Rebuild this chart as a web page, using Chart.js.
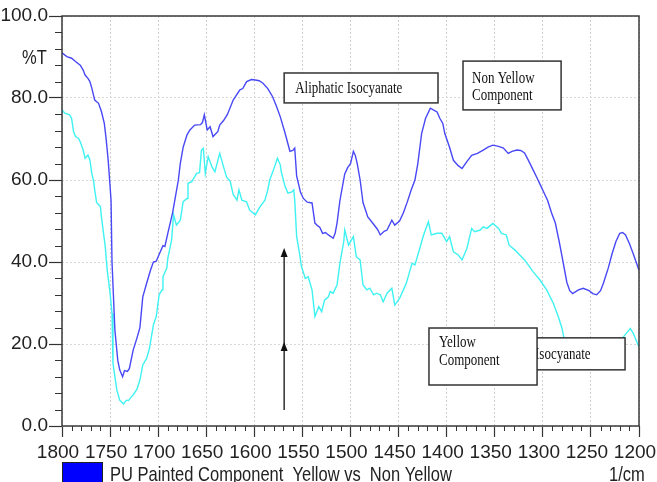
<!DOCTYPE html>
<html>
<head>
<meta charset="utf-8">
<script src="https://cdn.jsdelivr.net/npm/chart.js@4.4.1/dist/chart.umd.min.js"></script>
<style>
  body { margin: 0; background: #fff; }
  canvas { display: block; }
</style>
</head>
<body>
<canvas id="irChart" width="657" height="482"></canvas>
<script>
// axis ticks
const xTicks = [1800, 1750, 1700, 1650, 1600, 1550, 1500, 1450, 1400, 1350, 1300, 1250, 1200];
const yTicks = [0, 20, 40, 60, 80, 100];

// Non Yellow component (blue) - wavenumber / %T
const nonYellowWn = [1800,1795,1790,1786,1781,1778,1776,1773,1771,1769,1766,1762,1759,1756,1754,1752,1750,1749,1748,1745,1742,1740,1737,1735,1732,1730,1726,1722,1719,1716,1711,1708,1705,1702,1698,1695,1693,1690,1685,1682,1679,1677,1674,1670,1667,1662,1656,1654,1652,1649,1646,1643,1638,1636,1632,1628,1622,1615,1612,1608,1603,1599,1595,1591,1586,1581,1577,1573,1568,1563,1560,1558,1556,1552,1549,1545,1540,1537,1534,1532,1529,1526,1523,1518,1516,1514,1511,1506,1503,1500,1497,1495,1493,1490,1487,1482,1477,1472,1469,1465,1462,1457,1454,1449,1445,1441,1437,1433,1430,1426,1422,1417,1413,1410,1407,1404,1402,1397,1393,1388,1384,1379,1374,1368,1362,1357,1352,1346,1341,1336,1332,1327,1323,1319,1315,1310,1306,1303,1299,1295,1291,1287,1283,1280,1275,1272,1269,1263,1258,1252,1248,1244,1240,1237,1232,1228,1224,1220,1217,1214,1210,1206,1203,1200];
const nonYellowT  = [91,90.1,89.7,88.9,88,86.8,85.6,84.8,84,82.4,79.5,78.7,76.7,73.8,69.8,64.9,58.4,55,40,23.4,16,13.7,12,13.5,13.3,14,18.5,21.5,24,31.5,35.6,38,40,40.2,42.4,44,43.8,47,52,56,60,64,68,71,72.2,73.4,73.5,74,75.9,72.2,73,70.6,71.8,73.4,74.5,76,79.5,82,82.3,84,84.5,84.4,84.2,83.6,82.3,80.3,78,75.4,71.4,67,67.2,67.8,61,57,55.5,54.6,54.4,49.5,48.8,48.5,47,47.2,46.6,45.8,47,49.5,55,61.5,63,64,67,66,64,60,54.5,51,49.5,48,46.6,47.5,47.8,50.2,49,50,52,54.6,57.5,60,64,71.4,75,77.5,77,76.6,75,73.8,71.4,68,64.8,63.5,62.8,64.5,66,66.5,67.3,68,68.5,68.2,67.8,66.5,67,67.3,67.2,66.6,64.8,62.4,60.5,59,57,55,52,49.5,45,41.3,35,33,32.3,33.2,33.6,33,32.3,32,33,34.8,38.5,42,45,47,47.2,46.6,44.5,42,40,38];

// Yellow component (cyan) - wavenumber / %T
const yellowWn = [1800,1797,1792,1790,1788,1786,1783,1781,1778,1776,1773,1771,1769,1767,1766,1764,1760,1759,1755,1753,1750,1748,1747,1743,1740,1736,1733,1731,1726,1722,1719,1716,1712,1709,1705,1702,1699,1696,1695,1691,1690,1686,1684,1681,1677,1674,1670,1669,1665,1662,1660,1657,1655,1653,1651,1648,1644,1641,1636,1632,1629,1625,1622,1618,1616,1613,1608,1605,1599,1594,1589,1586,1584,1579,1576,1573,1572,1568,1565,1561,1559,1558,1556,1553,1551,1547,1544,1540,1537,1533,1530,1527,1523,1521,1518,1514,1511,1507,1506,1502,1499,1497,1494,1490,1487,1483,1480,1476,1473,1469,1466,1462,1457,1454,1449,1445,1442,1436,1433,1428,1424,1419,1416,1410,1405,1400,1397,1393,1388,1384,1379,1374,1371,1365,1362,1358,1352,1346,1343,1338,1335,1329,1324,1319,1310,1303,1296,1289,1284,1280,1278,1270,1255,1240,1228,1220,1216,1209,1206,1200];
const yellowT  = [77.1,76.3,75.9,75,71.8,70.6,70.2,69.3,67.3,65.3,66.1,64.9,61.6,59.6,57.6,54.5,53.5,51,43.7,38,32.4,27.5,15.3,8.8,6.3,5.4,6.3,6.2,7.6,9,11.2,14.9,16.5,19,24.6,26.7,32,33.2,36.4,38.5,40.9,45.4,51.5,49,50.2,54.7,55.5,59.2,59.6,60.8,61.6,61.8,67.3,67.7,61.6,65.7,63.2,62,66.5,63.2,60.8,59.6,56.5,55.1,57.6,55.1,54.7,52.7,51.5,53.5,55.1,57.6,60,63.2,65.3,63.7,62,58.4,56.8,57.1,57.6,55.1,46.2,42.1,38.9,36,36.4,33.2,26.7,29.1,27.9,30.7,31.5,32.8,32.4,34.4,39.7,45,47.8,44.1,45.4,46.2,41.3,40.5,34.4,33.2,33.6,32,32.4,32,30.3,32.4,33.6,29.5,31.1,33.2,34.8,39.7,39.3,43.3,46.6,49.8,46.6,47,47,45,46.2,42.5,41.7,40.5,43.3,48.2,47.4,47.8,48.6,48.2,49.4,48.2,47,46.6,44.1,42.9,41.7,40.5,37.6,35.6,33.2,29.9,26.7,23.8,21.4,17,15,15.5,18,20.5,21.8,23.8,22.6,19.3];

const legendText = 'PU Painted Component  Yellow vs  Non Yellow';

// pick a tick font (narrow if installed)
const probe = document.createElement('canvas').getContext('2d');
probe.font = '19px "Liberation Sans Narrow"';
let tickFont = { family: '"Liberation Sans Narrow", "Liberation Sans", sans-serif', size: 19 };
if (probe.measureText('1800').width > 40) {
  tickFont = { family: '"Liberation Sans", Arial, sans-serif', size: 15.5 };
}

function toPoints(xs, ys) {
  return xs.map((x, i) => ({ x: x, y: ys[i] }));
}

// stretched text (the original picture is a little taller than wide)
function stretchText(ctx, text, x, y, font, sy) {
  ctx.save();
  ctx.font = font;
  ctx.translate(x, y);
  ctx.scale(1, sy);
  ctx.fillText(text, 0, 0);
  ctx.restore();
}

function box(ctx, xs, ys, x1, x2, y1, y2) {
  const l = xs.getPixelForValue(x1), r = xs.getPixelForValue(x2);
  const t = ys.getPixelForValue(y1), b = ys.getPixelForValue(y2);
  ctx.fillStyle = '#fff';
  ctx.fillRect(l, t, r - l, b - t);
  ctx.strokeStyle = '#333';
  ctx.lineWidth = 1.5;
  ctx.strokeRect(l, t, r - l, b - t);
  return { l, t, r, b };
}

function arrowHead(ctx, x, y) {
  ctx.beginPath();
  ctx.moveTo(x, y);
  ctx.lineTo(x - 3.5, y + 9);
  ctx.lineTo(x + 3.5, y + 9);
  ctx.closePath();
  ctx.fill();
}

const decor = {
  id: 'decor',
  afterDraw(chart) {
    const ctx = chart.ctx;
    const a = chart.chartArea;
    const xs = chart.scales.x, ys = chart.scales.y;
    const sans = '16.5px "Liberation Sans", Arial, sans-serif';
    const serif = '13px "Liberation Serif", "Times New Roman", serif';

    ctx.save();
    // frame
    ctx.strokeStyle = '#3a3a3a';
    ctx.lineWidth = 1.5;
    ctx.strokeRect(a.left, a.top, a.right - a.left, a.bottom - a.top);

    // minor ticks
    ctx.lineWidth = 1;
    ctx.strokeStyle = '#333';
    ctx.beginPath();
    for (let v = 1200; v <= 1800; v += 10) {
      if (v % 50 === 0) continue;
      const x = Math.round(xs.getPixelForValue(v)) + 0.5;
      ctx.moveTo(x, a.bottom);
      ctx.lineTo(x, a.bottom + 5);
    }
    for (let v = 0; v <= 100; v += 4) {
      if (v % 20 === 0) continue;
      const y = Math.round(ys.getPixelForValue(v)) + 0.5;
      ctx.moveTo(a.left - 7, y);
      ctx.lineTo(a.left, y);
    }
    ctx.stroke();

    // arrow
    const ax = xs.getPixelForValue(1569);
    ctx.strokeStyle = '#111';
    ctx.fillStyle = '#111';
    ctx.lineWidth = 1.3;
    ctx.beginPath();
    ctx.moveTo(ax, ys.getPixelForValue(3.9));
    ctx.lineTo(ax, ys.getPixelForValue(43.4) + 4);
    ctx.stroke();
    arrowHead(ctx, ax, ys.getPixelForValue(43.4));
    arrowHead(ctx, ax, ys.getPixelForValue(20.5));

    // label boxes
    let r = box(ctx, xs, ys, 1569, 1409, 86.1, 78.8);
    ctx.fillStyle = '#111';
    stretchText(ctx, 'Aliphatic Isocyanate', r.l + 11, r.t + 20, serif, 1.25);

    r = box(ctx, xs, ys, 1383, 1281, 89, 77.1);
    ctx.fillStyle = '#111';
    stretchText(ctx, 'Non Yellow', r.l + 9, r.t + 22, serif, 1.25);
    stretchText(ctx, 'Component', r.l + 9, r.t + 39, serif, 1.25);

    r = box(ctx, xs, ys, 1373.6, 1214.5, 21.5, 13.7);
    ctx.fillStyle = '#111';
    ctx.font = serif;
    const pre = ctx.measureText('Aliphatic ').width;
    stretchText(ctx, 'Aliphatic Isocyanate', 535 - pre, r.t + 21, serif, 1.25);

    r = box(ctx, xs, ys, 1418.4, 1306, 23.9, 10);
    ctx.fillStyle = '#111';
    stretchText(ctx, 'Yellow', r.l + 10, r.t + 19, serif, 1.25);
    stretchText(ctx, 'Component', r.l + 10, r.t + 37, serif, 1.25);

    // %T and units
    ctx.fillStyle = '#222';
    stretchText(ctx, '%T', 22, ys.getPixelForValue(89.8) + 6, sans, 1.25);
    stretchText(ctx, '1/cm', 609, 481, sans, 1.25);

    // legend
    ctx.fillStyle = '#0000ff';
    ctx.fillRect(62, 462, 41, 24);
    ctx.strokeStyle = '#222';
    ctx.lineWidth = 1;
    ctx.strokeRect(62.5, 462.5, 40, 24);
    ctx.fillStyle = '#222';
    stretchText(ctx, legendText, 110, 481, sans, 1.25);
    ctx.restore();
  }
};

new Chart(document.getElementById('irChart'), {
  type: 'line',
  data: {
    datasets: [
      {
        label: 'Non Yellow',
        data: toPoints(nonYellowWn, nonYellowT),
        borderColor: '#4848f6',
        borderWidth: 1.4,
        pointRadius: 0,
        tension: 0
      },
      {
        label: 'Yellow',
        data: toPoints(yellowWn, yellowT),
        borderColor: '#3ef2f2',
        borderWidth: 1.4,
        pointRadius: 0,
        tension: 0
      }
    ]
  },
  options: {
    responsive: false,
    animation: false,
    devicePixelRatio: 1,
    layout: { padding: { top: 16, right: 18, left: 0, bottom: 0 } },
    plugins: { legend: { display: false }, tooltip: { enabled: false } },
    scales: {
      x: {
        type: 'linear',
        reverse: true,
        min: 1200,
        max: 1800,
        afterBuildTicks: s => { s.ticks = xTicks.map(v => ({ value: v })); },
        afterFit: s => { s.height = 56; s.paddingLeft = 0; s.paddingRight = 0; },
        ticks: {
          autoSkip: false,
          maxRotation: 0,
          padding: 4,
          labelOffset: -4,
          color: '#222',
          font: tickFont,
          callback: v => String(v)
        },
        grid: {
          color: '#cfcfcf',
          lineWidth: 1,
          tickLength: 11,
          tickColor: '#333',
          tickWidth: 1.2
        },
        border: { display: false, dash: [2, 2] }
      },
      y: {
        min: 0,
        max: 100,
        afterBuildTicks: s => { s.ticks = yTicks.map(v => ({ value: v })); },
        afterFit: s => { s.width = 62; s.paddingTop = 0; s.paddingBottom = 0; },
        ticks: {
          padding: 1,
          color: '#222',
          font: tickFont,
          callback: v => Number(v).toFixed(1)
        },
        grid: {
          color: '#d8d8d8',
          lineWidth: 1,
          tickLength: 13,
          tickColor: '#333',
          tickWidth: 1.2
        },
        border: { display: false, dash: [2, 2] }
      }
    }
  },
  plugins: [decor]
});
</script>
</body>
</html>
